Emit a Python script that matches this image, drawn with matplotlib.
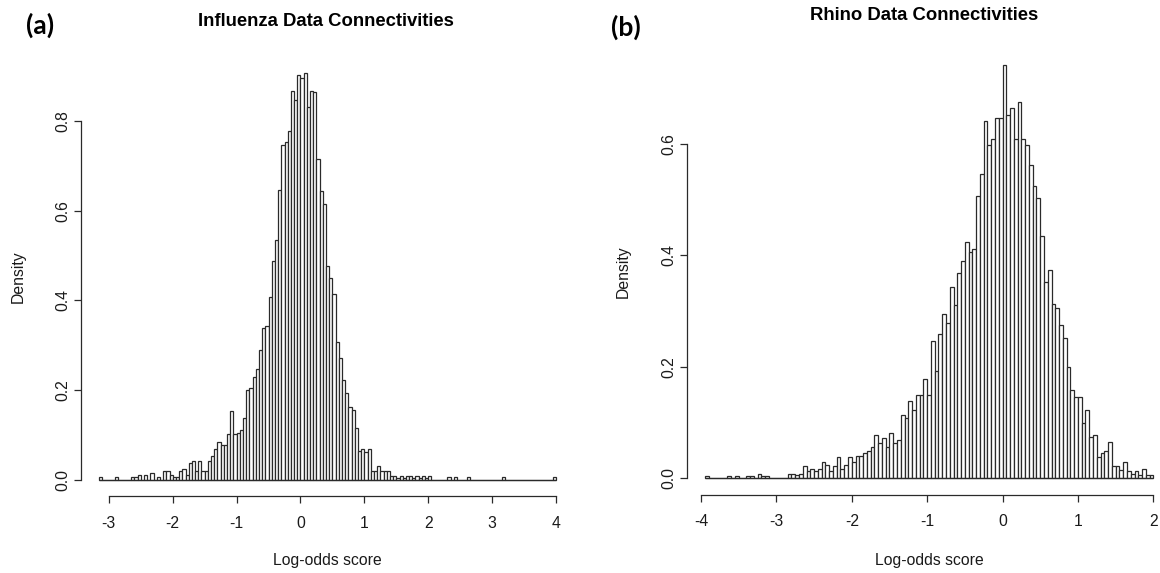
import numpy as np
import matplotlib
matplotlib.use("Agg")
import matplotlib.pyplot as plt

# ---------------- data ----------------
bin_width = 0.05

# Influenza: bins starting at -3.15, width 0.05 (last bin 3.95-4.00)
flu_start = -3.15
flu_density = [
    0.006, 0, 0, 0, 0, 0.006, 0, 0, 0, 0,                      # -3.15 .. -2.70
    0.006, 0.006, 0.011, 0, 0.011, 0, 0.015, 0, 0.006, 0,      # -2.65 .. -2.20
    0.019, 0.019, 0.011, 0.006, 0.006, 0.019, 0.025, 0.011, 0.037, 0.043,  # -2.15 .. -1.70
    0.019, 0.043, 0.019, 0.019, 0.043, 0.053, 0.068, 0.085, 0.079, 0.079,  # -1.65 .. -1.20
    0.102, 0.153, 0.102, 0.104, 0.111, 0.138, 0.200, 0.206, 0.229, 0.248,  # -1.15 .. -0.70
    0.290, 0.338, 0.344, 0.408, 0.487, 0.535, 0.646, 0.746, 0.752, 0.778,  # -0.65 .. -0.20
    0.867, 0.846, 0.901, 0.895, 0.907, 0.830, 0.867, 0.864, 0.715, 0.644,  # -0.15 .. 0.30
    0.615, 0.476, 0.450, 0.414, 0.307, 0.271, 0.223, 0.194, 0.163, 0.157,  # 0.35 .. 0.80
    0.116, 0.065, 0.068, 0.062, 0.068, 0.019, 0.019, 0.031, 0.019, 0.019,  # 0.85 .. 1.30
    0.019, 0.009, 0.009, 0.004, 0.009, 0.004, 0.009, 0.009, 0.004, 0.009,  # 1.35 .. 1.80
    0.004, 0.009, 0.004, 0.009, 0, 0, 0, 0, 0, 0.006,                     # 1.85 .. 2.30
    0, 0.006, 0, 0, 0, 0.006, 0, 0, 0, 0,                                  # 2.35 .. 2.80
    0, 0, 0, 0, 0, 0, 0.006, 0, 0, 0,                                      # 2.85 .. 3.30
    0, 0, 0, 0, 0, 0, 0, 0, 0, 0,                                          # 3.35 .. 3.80
    0, 0, 0.006,                                                           # 3.85 .. 3.95
]

# Rhino: bins starting at -3.95, width 0.05 (last bin 1.95-2.00)
rhino_start = -3.95
rhino_density = [
    0.004, 0, 0, 0, 0, 0, 0.004, 0, 0.004, 0,                  # -3.95 .. -3.50
    0, 0.004, 0.004, 0, 0.007, 0.004, 0.004, 0, 0, 0,          # -3.45 .. -3.00
    0, 0,                                                      # -2.95 .. -2.90
    0.007, 0.007, 0.005, 0.007, 0.022, 0.012, 0.017, 0.012, 0.017, 0.029,  # -2.85 .. -2.40
    0.024, 0.012, 0.022, 0.037, 0.017, 0.024, 0.037, 0.029, 0.040, 0.040,  # -2.35 .. -1.90
    0.044, 0.049, 0.055, 0.077, 0.063, 0.072, 0.055, 0.080, 0.063, 0.069,  # -1.85 .. -1.40
    0.113, 0.108, 0.138, 0.122, 0.149, 0.149, 0.177, 0.149, 0.247, 0.193,  # -1.35 .. -0.90
    0.258, 0.295, 0.279, 0.344, 0.311, 0.369, 0.390, 0.424, 0.406, 0.412,  # -0.85 .. -0.40
    0.507, 0.546, 0.641, 0.598, 0.610, 0.647, 0.647, 0.742, 0.652, 0.664,  # -0.35 .. 0.10
    0.610, 0.675, 0.609, 0.599, 0.562, 0.524, 0.503, 0.434, 0.353, 0.374,  # 0.15 .. 0.60
    0.312, 0.305, 0.275, 0.252, 0.199, 0.158, 0.146, 0.146, 0.098, 0.122,  # 0.65 .. 1.10
    0.073, 0.077, 0.037, 0.044, 0.049, 0.065, 0.022, 0.022, 0.015, 0.028,  # 1.15 .. 1.60
    0.012, 0.007, 0.012, 0.006, 0.017, 0.005, 0.005,                      # 1.65 .. 1.95
]

flu_xticks = [-3, -2, -1, 0, 1, 2, 3, 4]
flu_yticks = [0.0, 0.2, 0.4, 0.6, 0.8]
rhino_xticks = [-4, -3, -2, -1, 0, 1, 2]
rhino_yticks = [0.0, 0.2, 0.4, 0.6]

# ---------------- style ----------------
W, H = 1160, 573
plt.rcParams['font.family'] = ['Liberation Sans', 'DejaVu Sans']
INK = '#1a1a1a'
EDGE = '#2a2a2a'

fig = plt.figure(figsize=(W / 100, H / 100), dpi=100)
fig.patch.set_facecolor('white')


def px_axes(x0, x1, y0, y1):
    return fig.add_axes([x0 / W, 1 - y1 / H, (x1 - x0) / W, (y1 - y0) / H])


def draw_hist(ax, start, dens, xticks, yticks, xlim, ylim):
    dens = np.asarray(dens, dtype=float)
    left = start + bin_width * np.arange(len(dens))
    ax.bar(left, dens, width=bin_width, align='edge', facecolor='white',
           edgecolor=EDGE, linewidth=0.9)
    # continuous baseline, as R draws for empty bins
    ax.hlines(0, left[0], left[-1] + bin_width, color=EDGE, linewidth=0.9)
    ax.set_xlim(*xlim)
    ax.set_ylim(*ylim)
    for s in ('top', 'right'):
        ax.spines[s].set_visible(False)
    for s in ('left', 'bottom'):
        ax.spines[s].set_linewidth(0.9)
        ax.spines[s].set_color(EDGE)
    ax.spines['left'].set_bounds(yticks[0], yticks[-1])
    ax.spines['bottom'].set_bounds(xticks[0], xticks[-1])
    ax.set_xticks(xticks)
    ax.set_xticklabels([str(t) for t in xticks])
    ax.set_yticks(yticks)
    ax.set_yticklabels([f"{t:.1f}" for t in yticks])
    ax.tick_params(axis='both', length=5.2, width=0.9, color=EDGE,
                   labelsize=11.3, labelcolor=INK)
    ax.tick_params(axis='x', pad=9)
    ax.tick_params(axis='y', pad=8)
    for lab in ax.get_yticklabels():
        lab.set_rotation(90)
        lab.set_ha('center')
        lab.set_va('center')
    ax.set_facecolor('none')


# left panel (Influenza)
ax1 = px_axes(81.0, 574.3, 56.6, 496.3)
draw_hist(ax1, flu_start, flu_density, flu_xticks, flu_yticks,
          (-3.436, 4.286), (-0.0363, 0.943))
ax1.set_xlabel('Log-odds score', fontsize=11.3, color=INK)
ax1.xaxis.set_label_coords(0.5, (496.3 - 560) / (496.3 - 56.6))
ax1.xaxis.label.set_va('center')
ax1.set_ylabel('Density', fontsize=11.3, color=INK)
ax1.yaxis.set_label_coords((18 - 81.0) / (574.3 - 81.0), 0.5)
ax1.yaxis.label.set_va('center')

# right panel (Rhino)
ax2 = px_axes(686.8, 1171.3, 48.4, 494.5)
draw_hist(ax2, rhino_start, rhino_density, rhino_xticks, rhino_yticks,
          (-4.188, 2.238), (-0.0297, 0.772))
ax2.set_xlabel('Log-odds score', fontsize=11.3, color=INK)
ax2.xaxis.set_label_coords(0.5, (494.5 - 560) / (494.5 - 48.4))
ax2.xaxis.label.set_va('center')
ax2.set_ylabel('Density', fontsize=11.3, color=INK)
ax2.yaxis.set_label_coords((623 - 686.8) / (1171.3 - 686.8), 0.5)
ax2.yaxis.label.set_va('center')

# titles
fig.text(326 / W, 1 - 21 / H, 'Influenza Data Connectivities', ha='center',
         va='center', fontsize=13.3, fontweight='bold', color='black')
fig.text(924 / W, 1 - 15 / H, 'Rhino Data Connectivities', ha='center',
         va='center', fontsize=13.3, fontweight='bold', color='black')

# panel letters
fig.text(40 / W, 1 - 25 / H, '(a)', ha='center', va='center', fontsize=19,
         fontweight='bold', family=['Lato', 'DejaVu Sans'], color='black')
fig.text(626 / W, 1 - 27 / H, '(b)', ha='center', va='center', fontsize=19,
         fontweight='bold', family=['Lato', 'DejaVu Sans'], color='black')

fig.savefig('out.png', dpi=100, facecolor='white')
